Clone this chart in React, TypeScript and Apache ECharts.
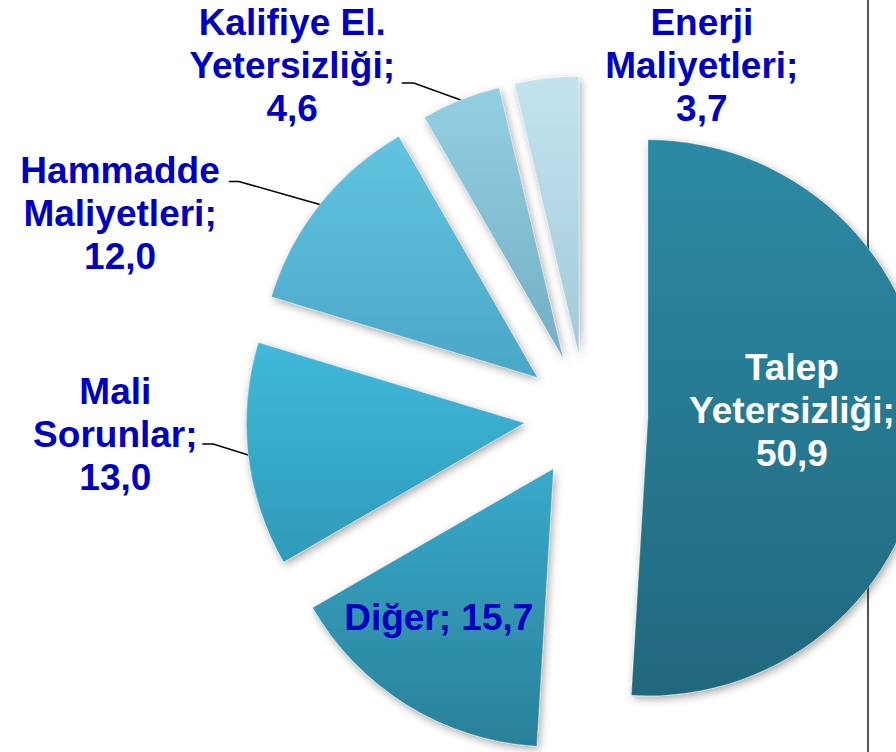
import React, { useEffect, useRef } from 'react';
import * as echarts from 'echarts';

// ---- data ----
const categories = [
  'Talep Yetersizliği',
  'Diğer',
  'Mali Sorunlar',
  'Hammadde Maliyetleri',
  'Kalifiye El. Yetersizliği',
  'Enerji Maliyetleri',
];
const labelLines = [
  ['Talep', 'Yetersizliği'],
  ['Diğer'],
  ['Mali', 'Sorunlar'],
  ['Hammadde', 'Maliyetleri'],
  ['Kalifiye El.', 'Yetersizliği'],
  ['Enerji', 'Maliyetleri'],
];
const values = [50.9, 15.7, 13.0, 12.0, 4.6, 3.7];

// ---- styles ----
const colorsTop = ['#2b8aa5', '#38aacb', '#40b9da', '#62c4e0', '#93cfe3', '#c3e4ef'];
const colorsBottom = ['#22687d', '#2a8099', '#2f9ab9', '#4aa7c6', '#74aec4', '#a3cad8'];
const labelBlue = '#0000c0';

// label shift from the library's default label position
const labelShift: Record<number, [number, number]> = {
  0: [2, -12],
  1: [-40, 28],
  2: [-83, -22],
  3: [-153, 18],
  4: [-128, -20],
  5: [192, 2],
};
// leader line bend points relative to arc midpoint
const leader: Record<number, [number, number][]> = {
  2: [[-35, -11], [-46, -11]],
  3: [[-81, -23], [-91, -23]],
  4: [[-47, -17], [-59, -17]],
};

export default function App() {
  const ref = useRef<HTMLDivElement>(null);
  useEffect(() => {
    const chart = echarts.init(ref.current!, null, { renderer: 'svg' });
    const fmt = (v: number) => v.toFixed(1).replace('.', ',');
    const data = categories.map((name, i) => ({
      name,
      value: values[i],
      selected: true,
      itemStyle: {
        color: new echarts.graphic.LinearGradient(0, 0, 0, 1, [
          { offset: 0, color: colorsTop[i] },
          { offset: 1, color: colorsBottom[i] },
        ]),
      },
      label: {
        position: i <= 1 ? 'inside' : 'outside',
        color: i === 0 ? '#ffffff' : labelBlue,
      },
      labelLine: { show: !!leader[i] },
    }));
    chart.setOption({
      animation: false,
      graphic: [
        {
          type: 'line',
          z: -1,
          shape: { x1: 868, y1: 0, x2: 868, y2: 752 },
          style: { stroke: '#1a1a1a', lineWidth: 1.5 },
        },
      ],
      series: [
        {
          type: 'pie',
          center: [586, 416],
          radius: 278,
          startAngle: 90,
          clockwise: true,
          selectedMode: 'multiple',
          selectedOffset: 62,
          avoidLabelOverlap: false,
          emphasis: { disabled: true },
          itemStyle: {
            borderColor: 'rgba(255,255,255,0.25)',
            borderWidth: 1,
            shadowBlur: 8,
            shadowColor: 'rgba(0,0,0,0.35)',
            shadowOffsetX: 2,
            shadowOffsetY: 3,
          },
          label: {
            fontFamily: '"Liberation Sans", Arial, sans-serif',
            fontWeight: 'bold',
            fontSize: 37,
            lineHeight: 43,
            align: 'center',
            formatter: (p: any) =>
              labelLines[p.dataIndex].join('\n') +
              ';' +
              (p.dataIndex === 1 ? ' ' : '\n') +
              fmt(p.value),
          },
          labelLine: {
            lineStyle: { color: '#000', width: 1.5 },
          },
          labelLayout: (p: any) => {
            const i = p.dataIndex;
            const s = labelShift[i];
            const out: any = {
              dx: s[0],
              dy: s[1],
              align: 'center',
              verticalAlign: 'middle',
            };
            const pts = p.labelLinePoints;
            if (leader[i] && pts && pts.length) {
              const p0 = pts[0];
              out.labelLinePoints = [
                [p0[0], p0[1]],
                ...leader[i].map((d) => [p0[0] + d[0], p0[1] + d[1]]),
              ];
            }
            return out;
          },
          data,
        },
      ],
    });
    return () => chart.dispose();
  }, []);
  return (
    <div
      ref={ref}
      style={{ position: 'absolute', left: 0, top: 0, width: 896, height: 752 }}
    />
  );
}
